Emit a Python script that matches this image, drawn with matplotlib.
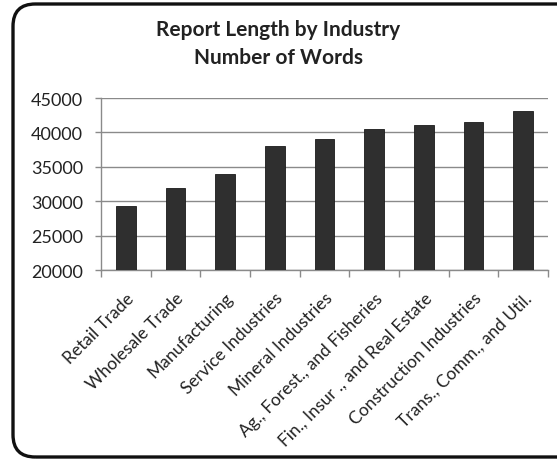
import matplotlib
matplotlib.use('Agg')
import matplotlib.pyplot as plt
from matplotlib.patches import FancyBboxPatch
import numpy as np

plt.rcParams['font.family'] = ['Lato', 'DejaVu Sans']

industries = ['Retail Trade', 'Wholesale Trade', 'Manufacturing', 'Service Industries',
              'Mineral Industries', 'Ag., Forest., and Fisheries',
              'Fin., Insur ., and Real Estate', 'Construction Industries',
              'Trans., Comm., and Util.']
words = [29300, 31850, 33950, 38000, 39050, 40500, 41050, 41450, 43150]
y_ticks = [20000, 25000, 30000, 35000, 40000, 45000]

W, H = 557, 460
fig = plt.figure(figsize=(W / 100, H / 100), dpi=100, facecolor='white')
ax = fig.add_axes([101 / W, 1 - 271 / H, (548 - 101) / W, (271 - 99) / H])

x = np.arange(len(industries))
ax.bar(x, words, width=0.4, color='#2f2f2f', edgecolor='#1a1a1a', linewidth=0.6, zorder=3)

ax.set_xlim(-0.5, len(industries) - 0.5)
ax.set_ylim(20000, 45000)
ax.set_yticks(y_ticks)
ax.set_yticklabels([str(v) for v in y_ticks], fontsize=13, color='#222')
ax.grid(axis='y', color='#8a8a8a', linewidth=1.0, zorder=0)
ax.tick_params(axis='y', length=4, color='#8a8a8a', width=1, pad=9)

# category ticks sit between bars, labels at the centres
ax.set_xticks(np.arange(len(industries) + 1) - 0.5)
ax.set_xticklabels([])
ax.set_xticks(x, minor=True)
ax.set_xticklabels(industries, minor=True, rotation=45, ha='right',
                   rotation_mode='anchor', fontsize=12.5, color='#222')
ax.tick_params(axis='x', which='major', length=5, color='#8a8a8a', width=1)
ax.tick_params(axis='x', which='minor', length=0, pad=14)

for side in ['top', 'right']:
    ax.spines[side].set_visible(False)
for side in ['left', 'bottom']:
    ax.spines[side].set_color('#8a8a8a')
    ax.spines[side].set_linewidth(1.0)

fig.text(0.5, 1 - 30 / H, 'Report Length by Industry', ha='center', va='center',
         fontsize=15, fontweight='bold', color='#222')
fig.text(0.5, 1 - 58 / H, 'Number of Words', ha='center', va='center',
         fontsize=15, fontweight='bold', color='#222')

# rounded frame around the chart area
frame = FancyBboxPatch((13 / W, 1 - 458 / H), 1.1 - 13 / W, (458 - 5) / H,
                       boxstyle='round,pad=0,rounding_size=0.04',
                       mutation_aspect=W / H, transform=fig.transFigure,
                       facecolor='none', edgecolor='#111', linewidth=2.4, clip_on=False)
fig.patches.append(frame)

fig.savefig('out.png', dpi=100, facecolor='white')
